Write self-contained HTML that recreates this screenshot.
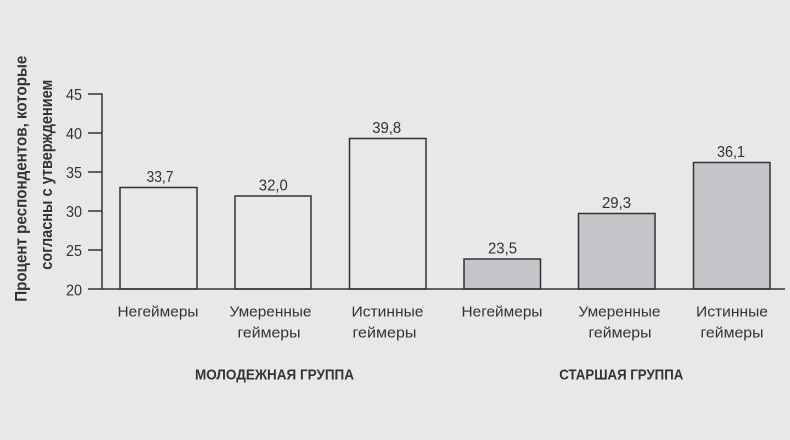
<!DOCTYPE html>
<html>
<head>
<meta charset="utf-8">
<style>
  html,body{margin:0;padding:0;background:#e8e8e8;}
  svg{display:block;}
  text{font-family:"Liberation Sans Narrow","Liberation Sans",sans-serif;fill:#333;}
</style>
</head>
<body>
<svg width="790" height="440" viewBox="0 0 790 440" xmlns="http://www.w3.org/2000/svg">
  <rect x="0" y="0" width="790" height="440" fill="#e8e8e8"/>

  <!-- Y axis title -->
  <text transform="translate(26.5,178.7) rotate(-90)" text-anchor="middle" font-size="17" font-weight="bold" textLength="246" lengthAdjust="spacingAndGlyphs">Процент респондентов, которые</text>
  <text transform="translate(52,174.7) rotate(-90)" text-anchor="middle" font-size="17" font-weight="bold" textLength="190" lengthAdjust="spacingAndGlyphs">согласны с утверждением</text>

  <!-- Y axis -->
  <g stroke="#333" stroke-width="1.5" fill="none">
    <line x1="102" y1="93.5" x2="102" y2="289"/>
    <line x1="88" y1="94" x2="102" y2="94"/>
    <line x1="88" y1="133" x2="102" y2="133"/>
    <line x1="88" y1="172" x2="102" y2="172"/>
    <line x1="88" y1="211" x2="102" y2="211"/>
    <line x1="88" y1="250" x2="102" y2="250"/>
  </g>
  <g font-size="16" text-anchor="end">
    <text x="82" y="100" textLength="16" lengthAdjust="spacingAndGlyphs">45</text>
    <text x="82" y="139" textLength="16" lengthAdjust="spacingAndGlyphs">40</text>
    <text x="82" y="178" textLength="16" lengthAdjust="spacingAndGlyphs">35</text>
    <text x="82" y="217" textLength="16" lengthAdjust="spacingAndGlyphs">30</text>
    <text x="82" y="256" textLength="16" lengthAdjust="spacingAndGlyphs">25</text>
    <text x="82" y="295.5" textLength="16" lengthAdjust="spacingAndGlyphs">20</text>
  </g>

  <!-- Bars -->
  <g stroke="#333" stroke-width="1.5">
    <rect x="120" y="187.5" width="77" height="101.5" fill="#e8e8e8"/>
    <rect x="235" y="196" width="76" height="93" fill="#e8e8e8"/>
    <rect x="349.5" y="138.5" width="76.5" height="150.5" fill="#e8e8e8"/>
    <rect x="464" y="259" width="76.5" height="30" fill="#c4c5c8"/>
    <rect x="578.5" y="213.5" width="76.5" height="75.5" fill="#c4c5c8"/>
    <rect x="693.5" y="162.5" width="76.5" height="126.5" fill="#c4c5c8"/>
  </g>

  <!-- X axis -->
  <line x1="88" y1="289" x2="785" y2="289" stroke="#333" stroke-width="1.5"/>

  <!-- Value labels -->
  <g font-size="16" text-anchor="middle">
    <text x="160" y="182" textLength="27" lengthAdjust="spacingAndGlyphs">33,7</text>
    <text x="273.3" y="190.5" textLength="29" lengthAdjust="spacingAndGlyphs">32,0</text>
    <text x="386.7" y="133" textLength="29" lengthAdjust="spacingAndGlyphs">39,8</text>
    <text x="502.5" y="253.5" textLength="29" lengthAdjust="spacingAndGlyphs">23,5</text>
    <text x="616.5" y="208" textLength="29" lengthAdjust="spacingAndGlyphs">29,3</text>
    <text x="731" y="157" textLength="28" lengthAdjust="spacingAndGlyphs">36,1</text>
  </g>

  <!-- Category labels -->
  <g font-size="15" text-anchor="middle">
    <text x="158" y="316.5" textLength="81" lengthAdjust="spacingAndGlyphs">Негеймеры</text>
    <text x="270.5" y="316.5" textLength="82" lengthAdjust="spacingAndGlyphs">Умеренные</text>
    <text x="269" y="337.5" textLength="63" lengthAdjust="spacingAndGlyphs">геймеры</text>
    <text x="387.5" y="316.5" textLength="72" lengthAdjust="spacingAndGlyphs">Истинные</text>
    <text x="384.5" y="337.5" textLength="64" lengthAdjust="spacingAndGlyphs">геймеры</text>

    <text x="502" y="316.5" textLength="81" lengthAdjust="spacingAndGlyphs">Негеймеры</text>
    <text x="619.5" y="316.5" textLength="82" lengthAdjust="spacingAndGlyphs">Умеренные</text>
    <text x="620" y="337.5" textLength="63" lengthAdjust="spacingAndGlyphs">геймеры</text>
    <text x="732" y="316.5" textLength="72" lengthAdjust="spacingAndGlyphs">Истинные</text>
    <text x="732" y="337.5" textLength="63" lengthAdjust="spacingAndGlyphs">геймеры</text>
  </g>

  <!-- Group titles -->
  <g font-size="15" font-weight="bold" text-anchor="middle">
    <text x="274.5" y="379.3" textLength="159" lengthAdjust="spacingAndGlyphs">МОЛОДЕЖНАЯ ГРУППА</text>
    <text x="621.3" y="379.3" textLength="124" lengthAdjust="spacingAndGlyphs">СТАРШАЯ ГРУППА</text>
  </g>
</svg>
</body>
</html>
